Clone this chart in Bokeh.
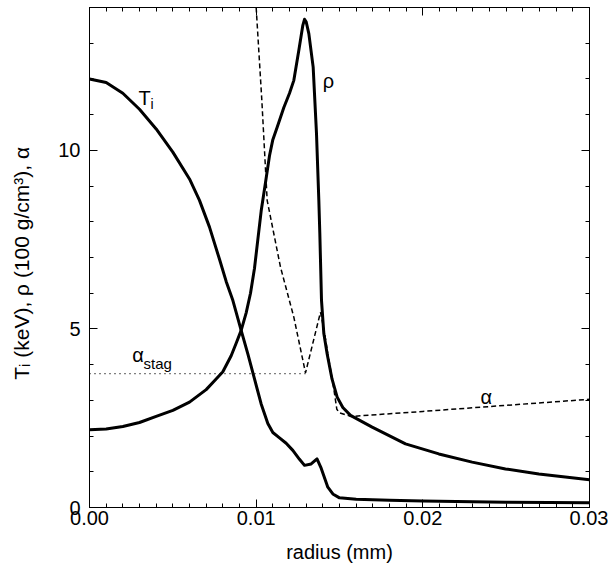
from bokeh.plotting import figure
from bokeh.models import (Range1d, LinearAxis, SingleIntervalTicker, Label,
                          NumeralTickFormatter, CustomJSTickFormatter)
from bokeh.embed import file_html
from bokeh.resources import INLINE

# ---- data ----
ti_x = [0.0, 0.001, 0.002, 0.003, 0.004, 0.005, 0.006, 0.0066, 0.0072, 0.0078, 0.0082,
        0.0086, 0.0091, 0.0095, 0.0099, 0.0103, 0.0107, 0.0110, 0.0114, 0.0118, 0.0122,
        0.0126, 0.0129, 0.0133, 0.01365, 0.0139, 0.0143, 0.0146, 0.0150, 0.0160,
        0.0180, 0.0200, 0.0250, 0.0300]
ti_y = [12.0, 11.9, 11.6, 11.15, 10.6, 9.95, 9.2, 8.6, 7.85, 6.95, 6.33,
        5.8, 4.96, 4.3, 3.6, 2.9, 2.35, 2.1, 1.95, 1.8, 1.6,
        1.35, 1.18, 1.22, 1.36, 1.1, 0.57, 0.38, 0.27, 0.23,
        0.2, 0.18, 0.15, 0.13]

rho_x = [0.0, 0.001, 0.002, 0.003, 0.004, 0.005, 0.006, 0.007, 0.0075, 0.008, 0.0085,
         0.0088, 0.0091, 0.0094, 0.00966, 0.0099, 0.0101, 0.0103, 0.01056, 0.0108,
         0.0110, 0.01126, 0.01166, 0.0120, 0.01226, 0.01256, 0.0128, 0.0129, 0.0130,
         0.01316, 0.01342, 0.01362, 0.01376, 0.01382, 0.01392, 0.01406, 0.01426, 0.01455,
         0.01486, 0.0152, 0.01566, 0.01696, 0.01896, 0.02096, 0.02296, 0.02496, 0.02696,
         0.0300]
rho_y = [2.18, 2.2, 2.27, 2.38, 2.55, 2.72, 2.95, 3.3, 3.55, 3.8, 4.25,
         4.6, 4.96, 5.45, 6.0, 6.7, 7.5, 8.3, 9.1, 9.85,
         10.3, 10.65, 11.2, 11.6, 11.96, 12.8, 13.5, 13.67, 13.6,
         13.27, 12.33, 10.47, 8.6, 7.66, 5.8, 4.87, 4.3, 3.6,
         3.09, 2.8, 2.58, 2.25, 1.78, 1.5, 1.27, 1.08, 0.94,
         0.78]

alpha_x = [0.0100, 0.01034, 0.01066, 0.01146, 0.01226, 0.01296, 0.01340, 0.01386,
           0.01410, 0.01430, 0.01460, 0.01484, 0.01500, 0.01570, 0.0200, 0.0250, 0.0300]
alpha_y = [14.0, 11.4, 8.6, 6.73, 5.33, 3.77, 4.6, 5.47,
           4.9, 4.3, 3.5, 2.75, 2.65, 2.55, 2.69, 2.86, 3.03]

stag_x = [0.0, 0.01296]
stag_y = [3.75, 3.75]

x_tick_interval = 0.01
y_tick_interval = 5

FONT = "Liberation Sans"

p = figure(frame_width=500, frame_height=500,
           min_border_left=89, min_border_right=19, min_border_top=7, min_border_bottom=63,
           x_range=Range1d(0, 0.03), y_range=Range1d(0, 14),
           x_axis_location=None, y_axis_location=None,
           output_backend="svg", toolbar_location=None)

p.xgrid.visible = False
p.ygrid.visible = False
p.outline_line_color = "black"
p.outline_line_width = 1
p.background_fill_color = "white"
p.border_fill_color = "white"

blank = CustomJSTickFormatter(code="return '';")

bottom = LinearAxis(ticker=SingleIntervalTicker(interval=x_tick_interval, num_minor_ticks=10),
                    formatter=NumeralTickFormatter(format="0.00"))
left = LinearAxis(ticker=SingleIntervalTicker(interval=y_tick_interval, num_minor_ticks=5))
top = LinearAxis(ticker=SingleIntervalTicker(interval=x_tick_interval, num_minor_ticks=10),
                 formatter=blank)
right = LinearAxis(ticker=SingleIntervalTicker(interval=y_tick_interval, num_minor_ticks=5),
                   formatter=blank)

for ax in [bottom, left, top, right]:
    ax.major_tick_in = 8
    ax.major_tick_out = 0
    ax.minor_tick_in = 4
    ax.minor_tick_out = 0
    ax.major_tick_line_color = "black"
    ax.minor_tick_line_color = "black"
    ax.axis_line_color = "black"
    ax.major_label_text_font = FONT
    ax.major_label_text_color = "black"
    ax.major_label_text_font_size = "20px"
    ax.axis_label_text_font = FONT
    ax.axis_label_text_font_style = "normal"
    ax.axis_label_text_color = "black"
    ax.axis_label_text_font_size = "20px"

for ax in [top, right]:
    ax.major_label_standoff = 0

bottom.major_label_standoff = 3
left.major_label_standoff = 9
bottom.axis_label = "radius (mm)"
bottom.axis_label_standoff = 13
left.axis_label = "T\u1d62 (keV),  \u03c1 (100 g/cm\u00b3),  \u03b1"
left.axis_label_text_font_size = "21px"
left.axis_label_standoff = 22

p.add_layout(bottom, "below")
p.add_layout(left, "left")
p.add_layout(top, "above")
p.add_layout(right, "right")

# curves
p.line(stag_x, stag_y, line_color="black", line_width=1.2, line_dash="1 4")
p.line(alpha_x, alpha_y, line_color="black", line_width=1.5, line_dash="5 3")
p.line(ti_x, ti_y, line_color="black", line_width=3, line_join="round")
p.line(rho_x, rho_y, line_color="black", line_width=3, line_join="round")

# in-plot labels
def lab(x, y, t, size, align="left"):
    p.add_layout(Label(x=x, y=y, text=t, text_font=FONT, text_font_size=size,
                       text_color="black", text_align=align, text_baseline="alphabetic"))

lab(0.00294, 11.48, "T", "20px")
lab(0.00366, 11.29, "i", "14px")
lab(0.01434, 11.93, "\u03c1", "20px", "center")
lab(0.00256, 4.26, "\u03b1", "20px")
lab(0.00324, 4.03, "stag", "15px")
lab(0.02346, 3.09, "\u03b1", "20px")

open("out.html", "w").write(file_html(p, INLINE))
